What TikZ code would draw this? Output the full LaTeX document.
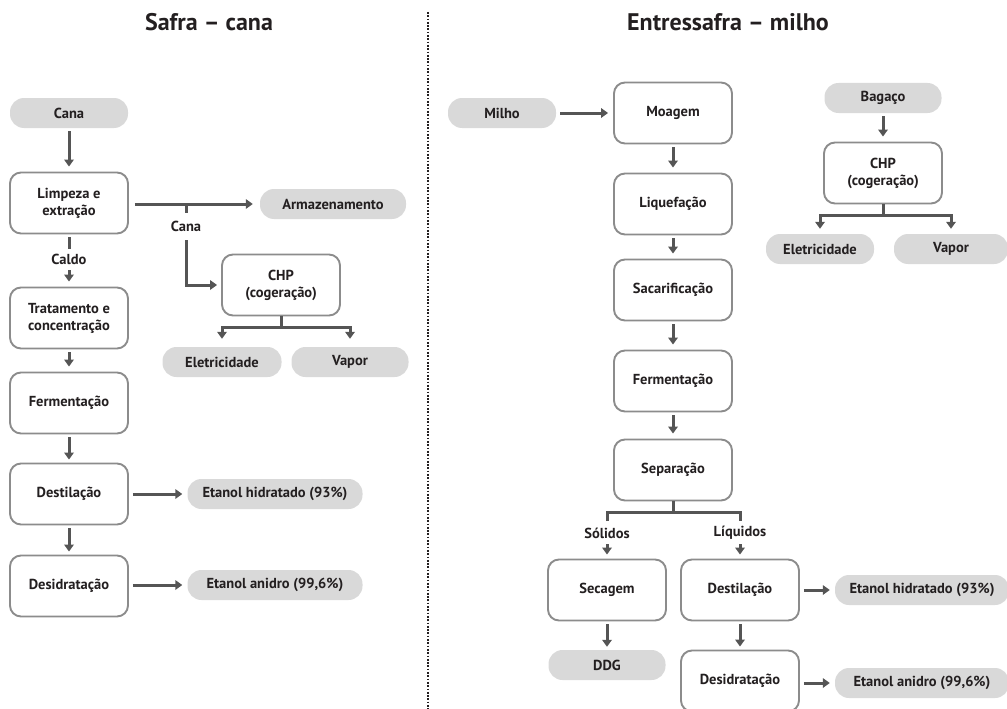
\documentclass[tikz,border=0pt]{standalone}
\usepackage{fontspec}
\setmainfont{PT Sans}
\usetikzlibrary{arrows.meta}
\definecolor{pillgray}{HTML}{D9D9D9}
\definecolor{boxline}{HTML}{8C8C8C}
\definecolor{arr}{HTML}{555555}
\definecolor{txt}{HTML}{231F20}
\begin{document}
\begin{tikzpicture}[x=1pt,y=-1pt,
  lbltext/.style={font=\bfseries\fontsize{14.5}{17}\selectfont, text=txt, align=center},
  pill/.style={lbltext, fill=pillgray, rounded corners=14pt, minimum height=30pt, inner sep=0pt},
  procbox/.style={lbltext, draw=boxline, line width=1.9pt, fill=white, rounded corners=11pt, minimum width=118pt, minimum height=61pt, inner sep=0pt},
  flow/.style={draw=arr, line width=3pt, -{Triangle[width=9.5pt,length=7pt]}},
  link/.style={draw=arr, line width=3pt},
  title/.style={font=\bfseries\fontsize{24}{28}\selectfont, text=txt},
  divider/.style={draw=txt, line width=1.7pt, dash pattern=on 1.7pt off 1.6pt}
]
\useasboundingbox (0,0) rectangle (1007,709);

% titles and divider
\node[title] (t1) at (209,22) {Safra -- cana};
\node[title] (t2) at (728,22) {Entressafra -- milho};
\coordinate (d1) at (428,12);
\coordinate (d2) at (428,709);
\draw[divider] (d1) -- (d2);

% ---------- left: Safra - cana ----------
\node[pill, minimum width=118pt] (cana) at (69,113) {Cana};
\node[procbox] (limp) at (69,203) {Limpeza e\\extração};
\node[pill, minimum width=146pt] (armaz) at (333,204) {Armazenamento};
\node[procbox] (chp1) at (281,285) {CHP\\(cogeração)};
\node[pill, minimum width=119pt] (elet1) at (222,362) {Eletricidade};
\node[pill, minimum width=117pt] (vap1) at (350,362) {Vapor};
\node[procbox] (trat) at (69,318) {Tratamento e\\concentração};
\node[procbox] (ferm1) at (69,403) {Fermentação};
\node[procbox] (dest1) at (69,494) {Destilação};
\node[pill, minimum width=175pt] (eh1) at (275,494) {Etanol hidratado (93\%)};
\node[procbox] (desi1) at (69,586) {Desidratação};
\node[pill, minimum width=175pt] (ea1) at (275,585) {Etanol anidro (99,6\%)};

\draw[flow, shorten <=3pt, shorten >=5pt] (cana) -- (limp);
\draw[flow, shorten <=6pt, shorten >=7pt] (limp.east |- armaz) -- (armaz.west);
\coordinate (bA) at (186,204);
\coordinate (bB) at (186,213);
\node[lbltext] (lcana) at (186,226) {Cana};
\coordinate (bC) at (186,240);
\draw[link] (bA) -- (bB);
\draw[flow, shorten >=4pt] (bC) |- (chp1.west);
\coordinate (j1) at (281,327);
\draw[link] (chp1.south) -- (j1);
\draw[flow, shorten >=8pt] (j1) -| (elet1.north);
\draw[flow, shorten >=8pt] (j1) -| (vap1.north);
% caldo
\node[lbltext] (lcaldo) at (69,259) {Caldo};
\coordinate (cA) at (69,249);
\coordinate (cB) at (69,270);
\draw[link, shorten <=3pt] (limp.south) -- (cA);
\draw[flow, shorten >=5pt] (cB) -- (trat.north);
\draw[flow, shorten <=3pt, shorten >=5pt] (trat) -- (ferm1);
\draw[flow, shorten <=3pt, shorten >=3pt] (ferm1) -- (dest1);
\draw[flow, shorten <=3pt, shorten >=3pt] (dest1) -- (desi1);
\draw[flow, shorten <=4pt, shorten >=5pt] (dest1) -- (eh1);
\draw[flow, shorten <=4pt, shorten >=5pt] (desi1.east |- ea1) -- (ea1);

% ---------- right: Entressafra - milho ----------
\node[pill, minimum width=108pt] (milho) at (502,113) {Milho};
\node[procbox] (moag) at (673,113) {Moagem};
\node[procbox] (liq) at (673,204) {Liquefação};
\node[procbox] (sac) at (673,290) {Sacarificação};
\node[procbox] (ferm2) at (673,381) {Fermentação};
\node[procbox] (sep) at (673,470) {Separação};
\node[procbox] (sec) at (607,590) {Secagem};
\node[pill, minimum width=117pt] (ddg) at (607,665) {DDG};
\node[procbox] (dest2) at (740,590) {Destilação};
\node[pill, minimum width=174pt] (eh2) at (922,590) {Etanol hidratado (93\%)};
\node[procbox] (desi2) at (740,681) {Desidratação};
\node[pill, minimum width=174pt] (ea2) at (922,683) {Etanol anidro (99,6\%)};
\node[pill, minimum width=117pt] (bag) at (883,98) {Bagaço};
\node[procbox] (chp2) at (883,173) {CHP\\(cogeração)};
\node[pill, minimum width=108pt] (elet2) at (820,249) {Eletricidade};
\node[pill, minimum width=114pt] (vap2) at (951,249) {Vapor};

\draw[flow, shorten <=4pt, shorten >=5pt] (milho) -- (moag);
\draw[flow, shorten <=3pt, shorten >=5pt] (moag) -- (liq);
\draw[flow, shorten <=3pt, shorten >=5pt] (liq) -- (sac);
\draw[flow, shorten <=3pt, shorten >=5pt] (sac) -- (ferm2);
\draw[flow, shorten <=3pt, shorten >=5pt] (ferm2) -- (sep);
\coordinate (j2) at (673,512);
\draw[link] (sep.south) -- (j2);
\coordinate (sA) at (607,521);
\coordinate (lA) at (740,521);
\draw[link] (sA) |- (j2) -| (lA);
\node[lbltext] (lsol) at (607,533) {Sólidos};
\node[lbltext] (lliq) at (740,533) {Líquidos};
\coordinate (sB) at (607,544);
\coordinate (lB) at (740,544);
\draw[flow, shorten >=4pt] (sB) -- (sec.north);
\draw[flow, shorten >=4pt] (lB) -- (dest2.north);
\draw[flow, shorten <=3pt, shorten >=3pt] (sec) -- (ddg);
\draw[flow, shorten <=3pt, shorten >=3pt] (dest2) -- (desi2);
\draw[flow, shorten <=4pt, shorten >=5pt] (dest2) -- (eh2);
\draw[flow, shorten <=4pt, shorten >=5pt] (desi2.east |- ea2) -- (ea2);
\draw[flow, shorten <=3pt, shorten >=5pt] (bag) -- (chp2);
\coordinate (j3) at (883,215);
\draw[link] (chp2.south) -- (j3);
\draw[flow, shorten >=5pt] (j3) -| (elet2.north);
\draw[flow, shorten >=5pt] (j3) -| (vap2.north);
\end{tikzpicture}
\end{document}
